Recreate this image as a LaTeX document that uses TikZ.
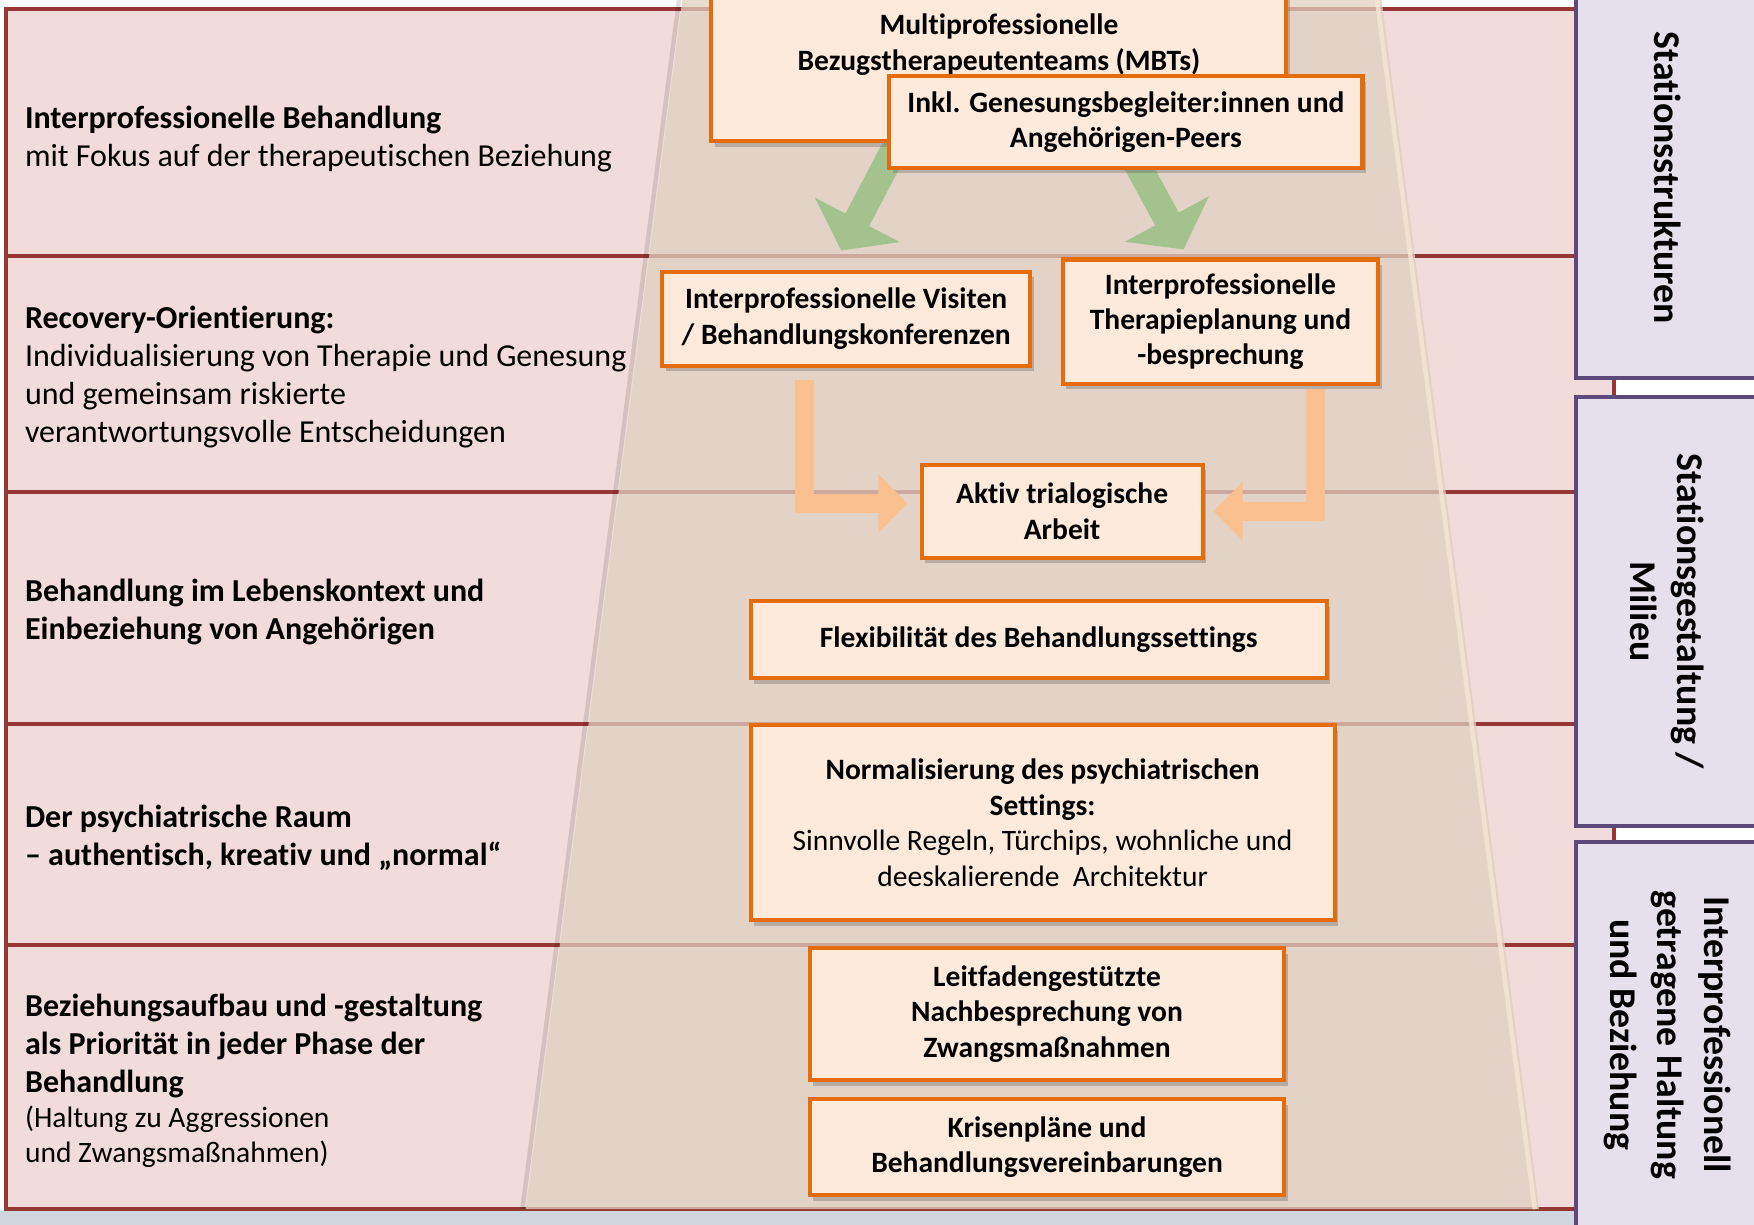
\documentclass[tikz,border=0pt]{standalone}
\usepackage{fontspec}
\setmainfont{Carlito}[Ligatures=NoCommon]
\usetikzlibrary{arrows.meta,shadows}

\pgfdeclarelayer{base}
\pgfdeclarelayer{flow}
\pgfsetlayers{base,flow,main}

\definecolor{rowfill}{HTML}{F2DCDB}
\definecolor{rowline}{HTML}{953735}
\definecolor{trapfill}{HTML}{DFD0BF}
\definecolor{trapedge}{HTML}{F8E6D6}
\definecolor{cardfill}{HTML}{FDEADA}
\definecolor{cardline}{HTML}{E46C0A}
\definecolor{sidefill}{HTML}{E5E0EC}
\definecolor{sideline}{HTML}{5F497A}
\definecolor{greenflowc}{HTML}{A3C28D}
\definecolor{orangeflowc}{HTML}{FAC090}
\definecolor{footerc}{HTML}{D0D6DD}

\newcommand\rowtextfont{\fontsize{14.3}{17}\selectfont}
\newcommand\rownotefont{\fontsize{13.2}{15}\selectfont}
\newcommand\cardfont{\fontsize{13.2}{15.8}\selectfont\bfseries}
\newcommand\cardplainfont{\fontsize{13.2}{15.8}\selectfont\mdseries}
\newcommand\sidetextfont{\fontsize{16.9}{21}\selectfont\bfseries}

\tikzset{
  rowtext/.style={anchor=west, align=left, inner sep=0pt, font=\rowtextfont},
  card/.style={draw=cardline, fill=cardfill, line width=1.8pt, align=center,
    inner sep=2pt, font=\cardfont,
    drop shadow={shadow xshift=1.5pt, shadow yshift=-2.5pt, opacity=0.35, fill=black!60}},
  sidebox/.style={draw=sideline, fill=sidefill, line width=1.8pt, rotate=-90,
    align=center, font=\sidetextfont, inner sep=0pt},
  greenflow/.style={draw=greenflowc, line width=12pt,
    -{Triangle[width=42pt,length=15.5pt]}},
  orangeflow/.style={draw=orangeflowc, line width=8.5pt, line join=miter,
    -{Triangle[width=25.5pt,length=13pt]}},
  rowborder/.style={draw=rowline, line width=1.8pt},
}

\begin{document}
\begin{tikzpicture}[x=0.5pt, y=-0.5pt]
\useasboundingbox (0,0) rectangle (1568,1095);
\clip (0,0) rectangle (1568,1095);

% ---- background: rows and the central trapezoid ----
\begin{pgfonlayer}{base}
  \fill[footerc] (0,1083) rectangle (1568,1095);
  \fill[rowfill] (5,8) rectangle (1443,1081);
  \draw[rowborder] (5,8) rectangle (1443,1081);
  \foreach \yy in {229,440,647,845}
    \draw[rowborder] (5,\yy) -- (1443,\yy);
  % soft shadow along the left flank
  \draw[black, opacity=0.12, line width=2pt] (607,0) -- (467,1081);
  \fill[trapfill, fill opacity=0.75] (610,0) -- (1235,0) -- (1376,1081) -- (470,1081) -- cycle;
  % light rim along the right flank
  \draw[trapedge, line width=2pt, opacity=0.8] (1231,0) -- (1372,1081);
\end{pgfonlayer}

% ---- cards ----
\node[card, minimum width=257pt, minimum height=86pt] (mbt) at (893,40)
  {Multiprofessionelle\\Bezugstherapeutenteams (MBTs)};
\node[card, minimum width=211.5pt, minimum height=41pt] (inkl) at (1006.5,109)
  {Inkl. Genesungsbegleiter:innen und\\Angehörigen-Peers};
\node[card, minimum width=164.5pt, minimum height=42pt] (visiten) at (756.5,285)
  {Interprofessionelle Visiten\\/ Behandlungskonferenzen};
\node[card, minimum width=141pt, minimum height=55.5pt] (therapie) at (1091,287.5)
  {Interprofessionelle\\Therapieplanung und\\-besprechung};
\node[card, minimum width=125.5pt, minimum height=41.5pt] (aktiv) at (949.5,457)
  {Aktiv trialogische\\Arbeit};
\node[card, minimum width=257.5pt, minimum height=34.5pt] (flex) at (928.5,572)
  {Flexibilität des Behandlungssettings};
\node[card, minimum width=261pt, minimum height=87pt] (normal) at (932,735.5)
  {Normalisierung des psychiatrischen\\Settings:\\
   {\cardplainfont Sinnvolle Regeln, Türchips, wohnliche und}\\
   {\cardplainfont deeskalierende~ Architektur}};
\node[card, minimum width=212pt, minimum height=59pt] (leit) at (936,906.5)
  {Leitfadengestützte\\Nachbesprechung von\\Zwangsmaßnahmen};
\node[card, minimum width=212pt, minimum height=43pt] (krisen) at (936,1025.5)
  {Krisenpläne und\\Behandlungsvereinbarungen};

% ---- flow arrows beneath the cards ----
\coordinate (gtipL) at (752,224);
\coordinate (gtipR) at (1058,223);
\begin{pgfonlayer}{flow}
  \draw[greenflow] ([xshift=7.5pt,yshift=17.5pt]inkl.south west) -- (gtipL);
  \draw[greenflow] ([xshift=-1.75pt,yshift=15pt]inkl.south) -- (gtipR);
  \draw[orangeflow] ([xshift=-18.75pt,yshift=-5.5pt]visiten.south)
    |- ([xshift=-5.5pt,yshift=3.5pt]aktiv.west);
  \draw[orangeflow] ([xshift=42.5pt,yshift=-1.5pt]therapie.south)
    |- ([xshift=4pt]aktiv.east);
\end{pgfonlayer}

% ---- side panels ----
\node[sidebox, minimum width=179pt, minimum height=81.5pt] (side1) at (1490.5,159)
  {Stationsstrukturen};
\node[sidebox, minimum width=191.5pt, minimum height=81.5pt] (side2) at (1490.5,546.5)
  {Stationsgestaltung /\\Milieu};
\node[sidebox, minimum width=172.5pt, minimum height=81.5pt] (side3) at (1490.5,925)
  {Interprofessionell\\getragene Haltung\\und Beziehung};

% ---- row captions ----
\node[rowtext] (row1) at (22,124)
  {\textbf{Interprofessionelle Behandlung}\\mit Fokus auf der therapeutischen Beziehung};
\node[rowtext] (row2) at (22,337)
  {\textbf{Recovery-Orientierung:}\\Individualisierung von Therapie und Genesung\\
   und gemeinsam riskierte\\verantwortungsvolle Entscheidungen};
\node[rowtext] (row3) at (22,547)
  {\textbf{Behandlung im Lebenskontext und}\\\textbf{Einbeziehung von Angehörigen}};
\node[rowtext] (row4) at (22,749)
  {\textbf{Der psychiatrische Raum}\\\textbf{– authentisch, kreativ und „normal“}};
\node[rowtext] (row5) at (22,966)
  {\textbf{Beziehungsaufbau und -gestaltung}\\\textbf{als Priorität in jeder Phase der}\\
   \textbf{Behandlung}\\[-1pt]{\rownotefont (Haltung zu Aggressionen}\\[-1.5pt]
   {\rownotefont und Zwangsmaßnahmen)}};
\end{tikzpicture}
\end{document}
